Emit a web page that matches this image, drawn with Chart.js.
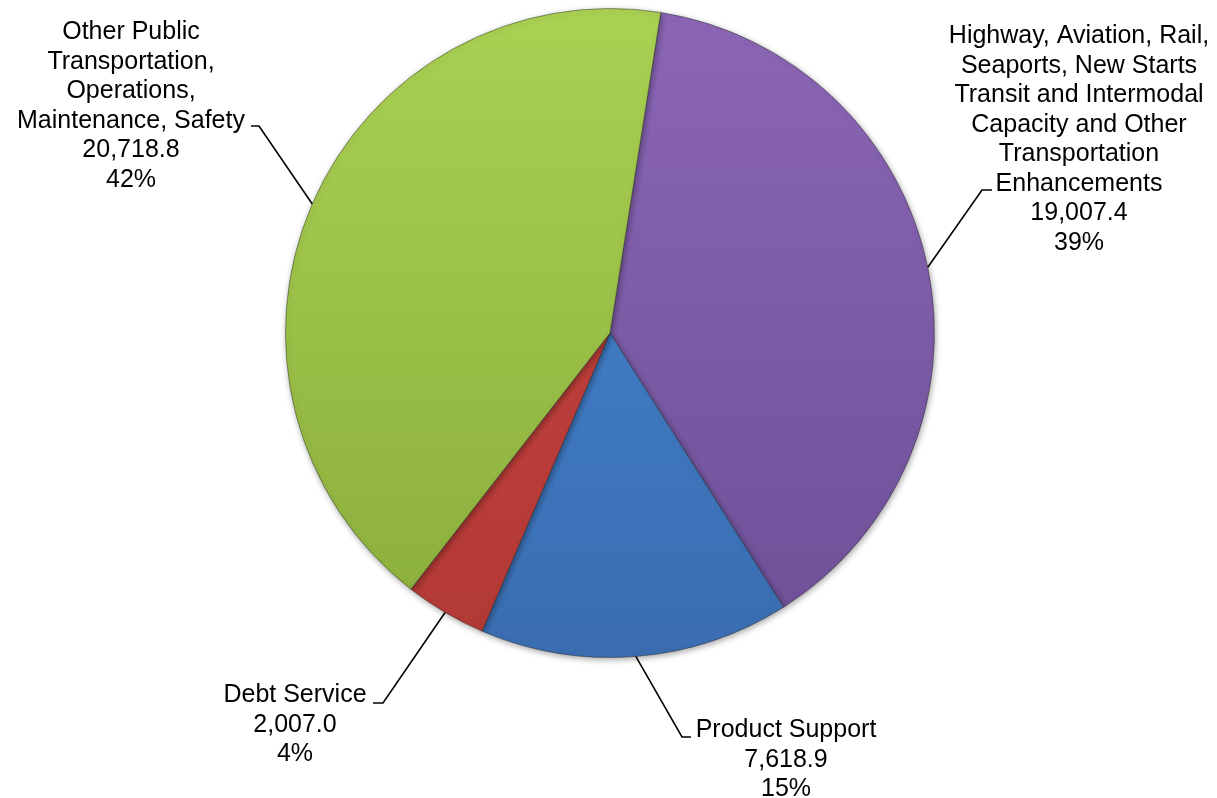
<!DOCTYPE html>
<html>
<head>
<meta charset="utf-8">
<script src="https://cdn.jsdelivr.net/npm/chart.js@4.4.0/dist/chart.umd.min.js"></script>
<style>
  body { margin: 0; background: #fff; }
  #wrap { width: 1217px; height: 798px; position: relative; }
</style>
</head>
<body>
<div id="wrap"><canvas id="budgetPie"></canvas></div>
<script>
// slices, clockwise from the top
const categories = [
  ["Highway, Aviation, Rail,", "Seaports, New Starts", "Transit and Intermodal", "Capacity and Other", "Transportation", "Enhancements"],
  ["Product Support"],
  ["Debt Service"],
  ["Other Public", "Transportation,", "Operations,", "Maintenance, Safety"]
];
const amounts = [19007.4, 7618.9, 2007.0, 20718.8];
const percentLabels = ["39%", "15%", "4%", "42%"];

// top / bottom colours of each slice's gradient
const topColors = ["#8b66b5", "#4588d6", "#c9443f", "#a9d152"];
const bottomColors = ["#6d4f97", "#3a6db0", "#b23935", "#8aad3b"];

// where each label sits: text centre x, first baseline, elbow and tick end of leader
const labelSpots = [
  { x: 1079, y: 43, elbow: [982, 190], tick: [992, 190] },
  { x: 786, y: 737, elbow: [682, 737], tick: [691, 737] },
  { x: 295, y: 702, elbow: [383, 703], tick: [373, 703] },
  { x: 131, y: 39, elbow: [259, 126], tick: [251, 126] }
];

const FONT = "25px 'Liberation Sans', Arial, sans-serif";
const LINE_H = 29.5;

function fmt(v) {
  return v.toLocaleString("en-US", { minimumFractionDigits: 1, maximumFractionDigits: 1 });
}

function sliceFill(ctx) {
  const chart = ctx.chart;
  const area = chart.chartArea;
  const i = ctx.dataIndex;
  if (!area || i === undefined) return topColors[i || 0];
  const g = chart.ctx.createLinearGradient(0, area.top, 0, area.bottom);
  g.addColorStop(0, topColors[i]);
  g.addColorStop(1, bottomColors[i]);
  return g;
}

const shadowPlugin = {
  id: "sliceShadow",
  beforeDatasetsDraw(chart) {
    const c = chart.ctx;
    c.save();
    c.shadowColor = "rgba(0,0,0,0.35)";
    c.shadowBlur = 6;
    c.shadowOffsetX = 1;
    c.shadowOffsetY = 2;
  },
  afterDatasetsDraw(chart) {
    chart.ctx.restore();
  }
};

const labelPlugin = {
  id: "calloutLabels",
  afterDraw(chart) {
    const c = chart.ctx;
    const arcs = chart.getDatasetMeta(0).data;
    c.save();
    c.strokeStyle = "#000";
    c.lineWidth = 1.6;
    c.fillStyle = "#000";
    c.font = FONT;
    c.textAlign = "center";
    c.textBaseline = "alphabetic";
    arcs.forEach((arc, i) => {
      const p = arc.getProps(["x", "y", "startAngle", "endAngle", "outerRadius"], true);
      const mid = (p.startAngle + p.endAngle) / 2;
      const ax = p.x + Math.cos(mid) * p.outerRadius;
      const ay = p.y + Math.sin(mid) * p.outerRadius;
      const spot = labelSpots[i];
      c.beginPath();
      c.moveTo(ax, ay);
      c.lineTo(spot.elbow[0], spot.elbow[1]);
      c.lineTo(spot.tick[0], spot.tick[1]);
      c.stroke();
      const lines = categories[i].concat([fmt(amounts[i]), percentLabels[i]]);
      lines.forEach((t, k) => c.fillText(t, spot.x, spot.y + k * LINE_H));
    });
    c.restore();
  }
};

new Chart(document.getElementById("budgetPie"), {
  type: "pie",
  data: {
    labels: categories,
    datasets: [{
      data: amounts,
      backgroundColor: sliceFill,
      borderColor: "rgba(40,40,40,0.45)",
      borderWidth: 1
    }]
  },
  options: {
    responsive: true,
    maintainAspectRatio: false,
    animation: false,
    rotation: 9,
    layout: { padding: { left: 285, right: 282, top: 8, bottom: 140 } },
    plugins: {
      legend: { display: false },
      tooltip: { enabled: false }
    }
  },
  plugins: [shadowPlugin, labelPlugin]
});
</script>
</body>
</html>
